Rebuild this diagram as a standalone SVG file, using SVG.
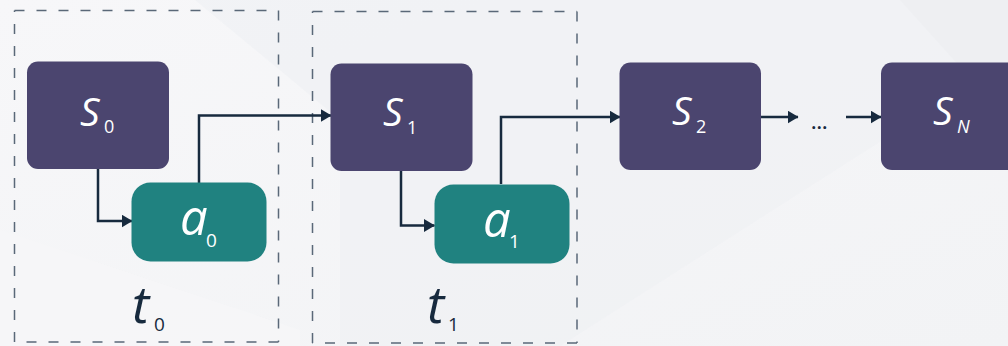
<svg xmlns="http://www.w3.org/2000/svg" width="1008" height="346" viewBox="0 0 1008 346">
<defs>
<marker id="ah" viewBox="0 0 11 13" refX="10.5" refY="6.5" markerWidth="11" markerHeight="13" markerUnits="userSpaceOnUse" orient="auto">
<path d="M0,0 L11,6.5 L0,13 z" fill="#172a3e"/>
</marker>
<linearGradient id="bg" x1="0" y1="0" x2="1" y2="1">
<stop offset="0" stop-color="#f7f7f9"/>
<stop offset="1" stop-color="#f2f3f5"/>
</linearGradient>
</defs>
<style>
.st{fill:#4b456f}
.ac{fill:#208280}
.frame{fill:none;stroke:#5a6878;stroke-width:1.5;stroke-dasharray:10 12}
.wl{fill:#ffffff;font-family:"Open Sans","Noto Sans",sans-serif}
.it{font-style:italic}
.dk{fill:#172a3e;font-family:"Open Sans","Noto Sans",sans-serif}
.cn{fill:none;stroke:#172a3e;stroke-width:2.5}
</style>
<rect width="1008" height="346" fill="url(#bg)"/>
<polygon points="195,0 1008,0 1008,60 560,346 340,346 340,120" fill="#eff0f3" opacity="0.6"/>
<polygon points="900,0 1008,0 1008,120" fill="#eceef1" opacity="0.7"/>
<polygon points="0,230 300,330 300,346 0,346" fill="#f6f6f8" opacity="0.8"/>
<g id="frame-t0">
<path class="frame" d="M14.5,10.5 H278.5 M278.5,10.5 V342 M278.5,342 H14.5 M14.5,342 V10.5"/>
<text class="dk it" x="132" y="323" font-size="52" font-weight="500">t</text>
<text class="dk" x="154" y="331" font-size="19">0</text>
</g>
<g id="frame-t1">
<path class="frame" d="M312.5,11.5 H577 M577,11.5 V343 M577,343 H312.5 M312.5,343 V11.5"/>
<text class="dk it" x="427" y="323" font-size="52" font-weight="500">t</text>
<text class="dk" x="448" y="331" font-size="19">1</text>
</g>
<g id="connectors">
<polyline class="cn" points="98,169 98,221 132,221" marker-end="url(#ah)"/>
<polyline class="cn" points="199,183 199,115.5 331,115.5" marker-end="url(#ah)"/>
<polyline class="cn" points="401,171 401,225.5 434.5,225.5" marker-end="url(#ah)"/>
<polyline class="cn" points="501,184 501,117 620,117" marker-end="url(#ah)"/>
<line class="cn" x1="761" y1="117" x2="798" y2="117" marker-end="url(#ah)"/>
<line class="cn" x1="846" y1="117" x2="881" y2="117" marker-end="url(#ah)"/>
</g>
<text class="dk" x="811" y="129" font-size="20" font-weight="600">...</text>
<g id="s0">
<rect class="st" x="27" y="61.5" width="142" height="107.5" rx="11"/>
<text class="wl it" x="80" y="125.5" font-size="39">S</text>
<text class="wl" x="104" y="133" font-size="18">0</text>
</g>
<g id="a0">
<rect class="ac" x="131.5" y="182.5" width="135" height="79" rx="19"/>
<text class="wl it" x="180" y="235" font-size="49">a</text>
<text class="wl" x="206" y="247" font-size="19">0</text>
</g>
<g id="s1">
<rect class="st" x="330.5" y="63.5" width="142" height="107.5" rx="11"/>
<text class="wl it" x="383" y="126" font-size="39">S</text>
<text class="wl" x="407" y="133.5" font-size="18">1</text>
</g>
<g id="a1">
<rect class="ac" x="434.5" y="184.5" width="135" height="79" rx="19"/>
<text class="wl it" x="483" y="237" font-size="49">a</text>
<text class="wl" x="509" y="248" font-size="19">1</text>
</g>
<g id="s2">
<rect class="st" x="619.5" y="62.5" width="141.5" height="107.5" rx="11"/>
<text class="wl it" x="672" y="125" font-size="39">S</text>
<text class="wl" x="696" y="132.5" font-size="18">2</text>
</g>
<g id="sN">
<rect class="st" x="881" y="62.5" width="141.5" height="107.5" rx="11"/>
<text class="wl it" x="933" y="125" font-size="39">S</text>
<text class="wl it" x="957" y="133" font-size="18">N</text>
</g>
</svg>
